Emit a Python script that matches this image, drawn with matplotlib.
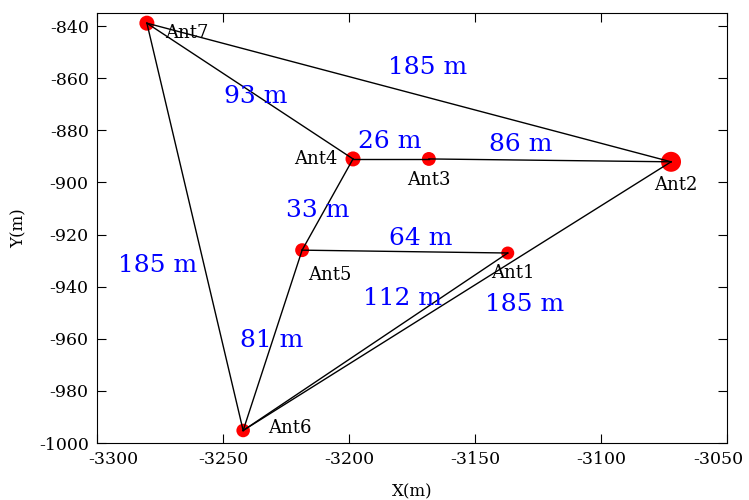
import matplotlib
matplotlib.use('Agg')
import matplotlib.pyplot as plt
from matplotlib.transforms import ScaledTranslation

plt.rcParams['font.family'] = 'DejaVu Serif'
plt.rcParams['axes.unicode_minus'] = False

# antenna positions (m)
ants = ['Ant1', 'Ant2', 'Ant3', 'Ant4', 'Ant5', 'Ant6', 'Ant7']
x = [-3137.0, -3072.2, -3168.3, -3198.4, -3218.6, -3242.0, -3280.2]
y = [-927.1, -892.1, -891.0, -891.0, -926.0, -995.2, -838.9]
dot_size = [88, 207, 100, 117, 100, 95, 117]

# baselines between antennas
edges = [('Ant7', 'Ant2'), ('Ant7', 'Ant4'), ('Ant7', 'Ant6'), ('Ant4', 'Ant3'),
         ('Ant3', 'Ant2'), ('Ant4', 'Ant5'), ('Ant5', 'Ant1'), ('Ant5', 'Ant6'),
         ('Ant6', 'Ant1'), ('Ant6', 'Ant2')]

# baseline length labels
dist_text = ['185 m', '93 m', '26 m', '86 m', '33 m', '64 m', '185 m', '112 m', '185 m', '81 m']
dist_x = [-3169.0, -3236.9, -3183.7, -3132.0, -3212.3, -3171.4, -3275.8, -3178.6, -3130.2, -3230.6]
dist_y = [-856.0, -867.0, -884.5, -885.6, -910.7, -921.4, -932.0, -944.6, -946.9, -960.6]

# label offsets in points and alignment
lab_off = {'Ant1': (3.6, -14.4, 'center'), 'Ant2': (3.6, -17, 'center'),
           'Ant3': (0, -15, 'center'), 'Ant4': (-11.5, 0, 'right'),
           'Ant5': (20, -18, 'center'), 'Ant6': (18, 2, 'left'),
           'Ant7': (13, -7, 'left')}

fig = plt.figure(figsize=(7.49, 5.0), dpi=100)
ax = fig.add_axes([0.1295, 0.114, 0.8411, 0.86])

pos = dict(zip(ants, zip(x, y)))
ax.scatter(x, y, s=dot_size, color='red', zorder=2, linewidths=0)
for a, b in edges:
    ax.plot([pos[a][0], pos[b][0]], [pos[a][1], pos[b][1]], color='black', lw=1, zorder=3)

for name in ants:
    dx, dy, ha = lab_off[name]
    ax.annotate(name, pos[name], xytext=(dx, dy), textcoords='offset points',
                ha=ha, va='center', fontsize=13, zorder=4)

for t, tx, ty in zip(dist_text, dist_x, dist_y):
    ax.text(tx, ty, t, color='blue', fontsize=18, ha='center', va='center', zorder=4)

ax.set_xlim(-3300, -3050)
ax.set_ylim(-1000, -835)
ax.set_xticks(range(-3300, -3049, 50))
ax.set_yticks(range(-1000, -839, 20))
ax.tick_params(direction='in', top=True, right=True, length=6.5, labelsize=12.5, pad=6)
ax.set_xlabel('X(m)', fontsize=12, labelpad=11)
ax.set_ylabel('Y(m)', fontsize=12, labelpad=8)

# nudge the end tick labels inward
fig.canvas.draw()
xl = ax.get_xticklabels()
xl[0].set_transform(xl[0].get_transform() + ScaledTranslation(12 / 72, 0, fig.dpi_scale_trans))
xl[-1].set_transform(xl[-1].get_transform() + ScaledTranslation(-6 / 72, 0, fig.dpi_scale_trans))

fig.savefig('out.png', dpi=100)
